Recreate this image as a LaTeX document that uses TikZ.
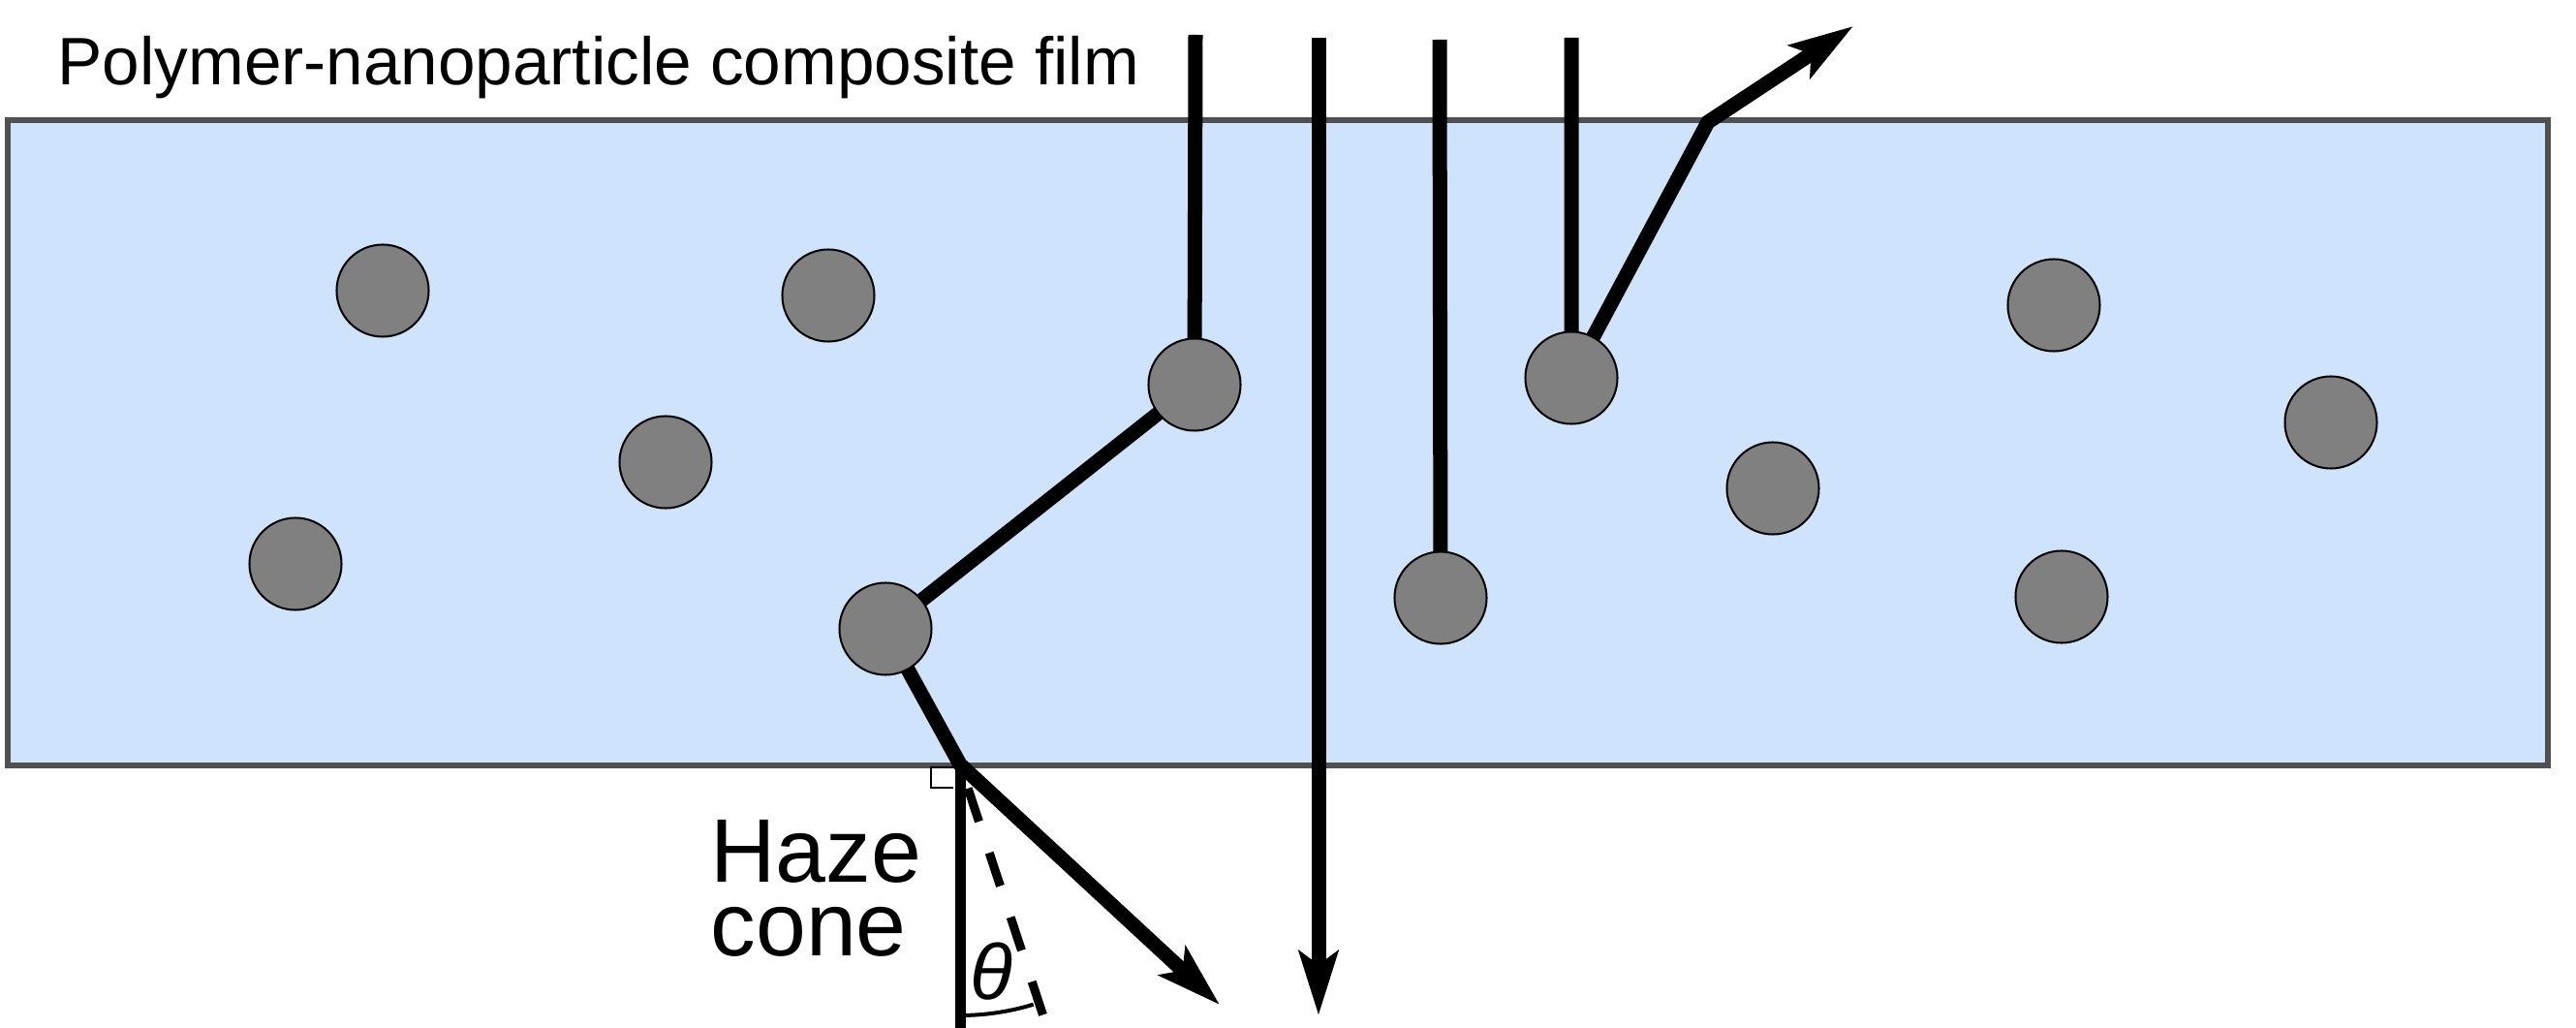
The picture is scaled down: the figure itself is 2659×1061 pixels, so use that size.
\documentclass[tikz,border=0pt]{standalone}
\usepackage{fontspec}
\setmainfont{Liberation Sans}
\usetikzlibrary{arrows.meta,backgrounds,calc}
\definecolor{filmblue}{HTML}{CFE4FC}
\definecolor{edgegray}{HTML}{505050}
\definecolor{dotgray}{HTML}{808080}
\tikzset{film/.style={draw=edgegray,fill=filmblue,line width=0.06cm},particle/.style={circle,draw=black,fill=dotgray,line width=0.02cm,minimum size=0.95cm,inner sep=0pt},ray/.style={line width=0.15cm,draw=black},beam/.style={ray,-{Stealth[length=0.66cm,width=0.4cm,inset=0.14cm]}},filmtext/.style={font=\fontsize{19.7}{23}\selectfont,inner sep=0pt},hazetext/.style={font=\fontsize{26.5}{21.6}\selectfont,inner sep=0pt,align=left}}

\begin{document}
\begin{tikzpicture}[x=0.01cm,y=-0.01cm]
\useasboundingbox (0,0) rectangle (2659,1061);
\foreach \n/\x/\y in {1/395/300,2/855/305,3/687/477,4/305/582,5/914/649,6/1233/397,7/1622/390,8/1487/617,9/1830/504,10/2120/315,11/2406/436,12/2128/616}{\node[particle] (p\n) at (\x,\y) {};}
\coordinate (in1) at (1234,36);
\coordinate (in2) at (1361,39);
\coordinate (in3) at (1486,41);
\coordinate (in4) at (1622,39);
\coordinate (out1) at (991,789);
\coordinate (out4) at (1763,126);
\coordinate (end1) at (1259,1037);
\coordinate (end2) at (1361,1048);
\coordinate (end4) at (1913,27);
\coordinate (normal) at (991,1061);
\coordinate (edge) at (1080,1058);
\begin{pgfonlayer}{background}
\draw[film] (8,124) rectangle (2630,790);
\draw[beam] (in1) -- (p6.center) -- (p5.center) -- (out1) -- (end1);
\draw[beam] (in2) -- (end2);
\draw[ray] (in3) -- (p8.center);
\draw[beam] (in4) -- (p7.center) -- (out4) -- (end4);
\end{pgfonlayer}
% haze cone
\draw[line width=0.11cm] (out1) -- (normal);
\draw[line width=0.09cm,dash pattern=on 0.36cm off 0.34cm,dash phase=0.44cm] (out1) -- (edge);
\draw[line width=0.02cm] ($(out1)+(-7,3)$) -- ++(-23,0) -- ++(0,21) -- ++(23,0);
\draw[line width=0.04cm] ($(out1)+(0,259)$) arc[start angle=90,end angle=73,radius=259];
\node[filmtext,anchor=base west] (title) at (59,88) {Polymer-nanoparticle composite film};
\node[hazetext,anchor=base west] (haze) at (733,986) {Haze\\cone};
\node[font=\fontsize{23}{23}\selectfont\itshape,inner sep=0pt] (theta) at (1023,1003) {θ};
\end{tikzpicture}
\end{document}
